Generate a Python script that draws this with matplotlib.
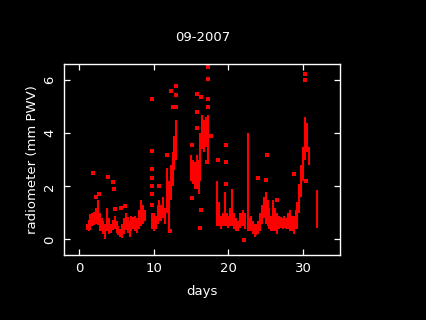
import matplotlib
matplotlib.use("Agg")
import matplotlib.pyplot as plt

# Dense bands: day, low value, high value (mm PWV)
band_day = [1.0, 1.25, 1.5, 1.75, 2.0, 2.25, 2.5, 2.75, 3.0, 3.25, 3.5, 3.75,
            4.0, 4.25, 4.5, 4.75, 5.0, 5.25, 5.5, 5.75, 6.0, 6.25, 6.5, 6.75,
            7.0, 7.25, 7.5, 7.75, 8.0, 8.25, 8.5, 8.75,
            9.8, 10.0, 10.25, 10.5, 10.75, 11.0, 11.25, 11.5, 11.75, 12.0,
            12.25, 12.5, 12.75, 13.0,
            15.0, 15.25, 15.5, 15.75, 16.0, 16.25, 16.5, 16.75, 17.0, 17.25,
            18.5, 18.75, 19.0, 19.25, 19.5, 19.75, 20.0, 20.25, 20.5, 20.75,
            21.0, 21.25, 21.5, 21.75, 22.0, 22.25, 22.6, 22.75, 23.0, 23.25,
            23.5, 23.75, 24.0, 24.25, 24.5, 24.75, 25.0, 25.25, 25.5, 25.75,
            26.0, 26.25, 26.5, 26.75, 27.0, 27.25, 27.5, 27.75, 28.0, 28.25,
            28.5, 28.75, 29.0, 29.25, 29.5, 29.75, 30.0, 30.25, 30.5, 30.75,
            31.9]
band_low = [0.35, 0.3, 0.35, 0.5, 0.55, 0.6, 0.55, 0.3, 0.3, 0.2, 0.0, 0.3,
            0.2, 0.25, 0.35, 0.4, 0.25, 0.15, 0.1, 0.05, 0.2, 0.35, 0.25, 0.1,
            0.3, 0.4, 0.3, 0.25, 0.4, 0.5, 0.6, 0.7,
            0.4, 0.3, 0.4, 0.6, 0.7, 0.7, 0.8, 0.6, 1.0, 0.3,
            1.5, 2.0, 2.6, 3.0,
            2.2, 2.1, 1.9, 1.9, 1.7, 2.2, 3.4, 3.3, 3.5, 3.0,
            0.5, 0.5, 0.4, 0.5, 0.5, 0.5, 0.45, 0.5, 0.5, 0.4,
            0.3, 0.3, 0.45, 0.5, 0.5, 0.4, 0.3, 0.3, 0.3, 0.2,
            0.1, 0.15, 0.2, 0.3, 0.6, 0.8, 0.6, 0.5, 0.4, 0.3,
            0.3, 0.3, 0.2, 0.4, 0.45, 0.4, 0.45, 0.4, 0.4, 0.3,
            0.3, 0.2, 0.4, 0.4, 1.0, 1.6, 2.2, 3.0, 3.3, 2.8,
            0.45]
band_high = [0.6, 0.75, 0.95, 1.0, 1.05, 1.2, 1.5, 1.0, 0.8, 0.7, 0.6, 1.2,
             0.8, 0.6, 0.75, 0.9, 0.7, 0.5, 0.4, 0.6, 0.8, 1.0, 0.85, 0.7,
             0.9, 0.85, 0.9, 0.8, 1.1, 1.5, 1.3, 1.1,
             1.0, 1.0, 0.9, 1.3, 1.5, 1.3, 1.6, 1.2, 2.7, 2.2,
             2.8, 3.3, 3.9, 4.5,
             3.2, 3.0, 2.9, 3.2, 3.0, 4.0, 4.7, 4.5, 4.6, 4.7,
             2.2, 1.4, 0.9, 1.0, 1.8, 1.0, 0.9, 1.2, 1.9, 1.0,
             0.8, 0.7, 1.0, 1.0, 1.1, 1.0, 4.0, 0.8, 0.9, 0.7,
             0.6, 0.6, 0.7, 1.0, 1.3, 1.6, 1.8, 1.5, 1.2, 0.9,
             1.5, 1.2, 1.0, 0.9, 0.85, 0.8, 0.9, 0.8, 1.0, 1.1,
             0.9, 0.9, 1.1, 1.4, 2.1, 2.8, 3.5, 4.6, 4.4, 3.5,
             1.85]

# Isolated readings: day, value
pt_day = [1.8, 2.2, 2.6, 3.8, 4.5, 4.7, 4.8, 5.6, 6.1,
          9.8, 9.8, 9.8, 9.8, 9.8, 9.8, 9.8, 10.7, 11.7, 12.1, 12.3, 12.6,
          13.0, 13.0, 13.0, 15.1, 15.1, 15.8, 15.8, 15.8, 16.2, 16.3, 16.3,
          17.1, 17.2, 17.2, 17.2, 17.3, 17.6, 18.6, 19.7, 19.7, 19.7,
          22.1, 24.0, 25.0, 25.2, 26.5, 28.8, 30.2, 30.3, 30.4]
pt_val = [2.5, 1.6, 1.7, 2.35, 2.17, 1.9, 1.15, 1.2, 1.27,
          5.3, 3.35, 2.65, 2.3, 2.0, 1.7, 1.3, 2.0, 3.2, 0.3, 5.6, 5.0,
          5.8, 5.45, 5.0, 3.55, 1.55, 4.2, 4.8, 5.5, 0.45, 1.1, 5.35,
          2.9, 5.0, 5.3, 6.05, 6.5, 3.9, 3.0, 3.55, 2.9, 2.1,
          -0.02, 2.3, 2.25, 3.2, 1.5, 2.45, 6.25, 6.0, 2.2]

xticks = [0, 10, 20, 30]
yticks = [0, 2, 4, 6]

fig = plt.figure(figsize=(4.26, 3.2), dpi=100, facecolor="black")
ax = fig.add_axes([0.151, 0.202, 0.648, 0.597], facecolor="black")

ax.vlines(band_day, band_low, band_high, colors="#ff0000", linewidth=1.5)
ax.scatter(pt_day, pt_val, s=5, marker="s", color="#ff0000", linewidths=0)

ax.set_xlim(-2, 35)
ax.set_ylim(-0.6, 6.6)
ax.set_xticks(xticks)
ax.set_yticks(yticks)
ax.set_yticklabels([str(v) for v in yticks], rotation=90, va="center")

for s in ax.spines.values():
    s.set_color("white")
    s.set_linewidth(1.0)
ax.tick_params(which="both", direction="in", colors="white", length=4.5,
               width=0.9, top=True, right=True, labelsize=9.5)
ax.tick_params(axis="x", pad=5)
ax.tick_params(axis="y", pad=6)

ax.set_title("09-2007", color="white", fontsize=9.5, pad=17)
ax.set_xlabel("days", color="white", fontsize=9.5, labelpad=7)
ax.set_ylabel("radiometer (mm PWV)", color="white", fontsize=9.5, labelpad=3)

fig.savefig("out.png", dpi=100, facecolor="black")
